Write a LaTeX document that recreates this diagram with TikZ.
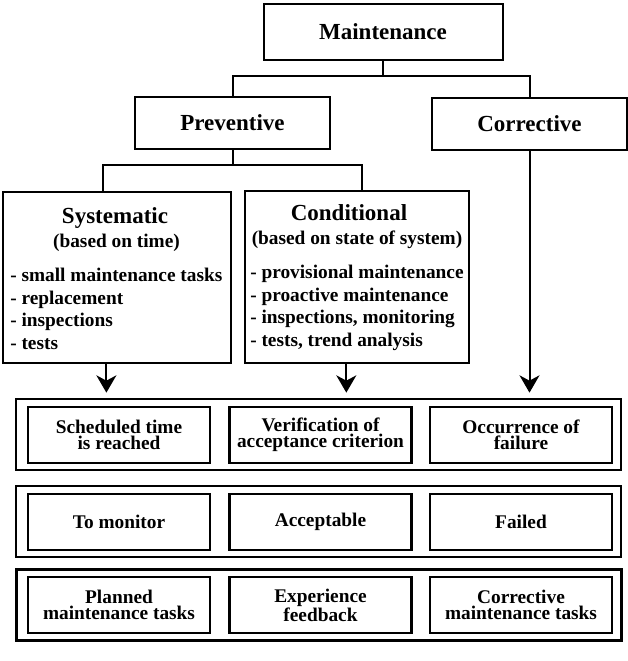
\documentclass[tikz,border=0pt]{standalone}
\usepackage{fontspec}
\setmainfont{Liberation Serif}
\usetikzlibrary{arrows.meta}

\tikzset{
  topbox/.style={draw,line width=1.5pt,inner sep=0pt,font=\fontsize{17.25}{17}\selectfont\bfseries},
  kindbox/.style={draw,line width=1.5pt,inner sep=0pt},
  rowbox/.style={draw,line width=2pt,inner sep=0pt,minimum width=453.75pt,minimum height=53.25pt},
  cellbox/.style={draw,line width=2pt,inner sep=0pt,minimum width=136.5pt,minimum height=42pt,align=center,font=\fontsize{14.5}{12}\selectfont\bfseries},
  title/.style={anchor=base,inner sep=0pt,font=\fontsize{17.25}{17}\selectfont\bfseries},
  listtext/.style={anchor=base west,inner sep=0pt,align=left,font=\fontsize{14.5}{16.9}\selectfont\bfseries},
  link/.style={line width=1.5pt},
  arr/.style={line width=1.5pt,-{Stealth[length=13pt,width=15pt,inset=4pt]},shorten >=3.75pt}
}

\begin{document}
\begin{tikzpicture}[x=0.75pt,y=-0.75pt]
\useasboundingbox (0,0) rectangle (628,661);

% tree
\node[topbox,minimum width=179.25pt,minimum height=42pt] (maint) at (383,32) {Maintenance};
\node[topbox,minimum width=146.25pt,minimum height=39pt] (prev) at (232.5,123) {Preventive};
\node[topbox,minimum width=146.25pt,minimum height=39pt] (corr) at (529.5,124) {Corrective};

\node[kindbox,minimum width=171pt,minimum height=128.25pt] (syst) at (117,277.5) {};
\node[kindbox,minimum width=168pt,minimum height=129pt] (cond) at (357,277) {};

% box texts, lists placed by the baseline of their last line
\node[title] (systname) at (115,223) {Systematic};
\node[title,font=\fontsize{14.5}{16}\selectfont\bfseries] (systsub) at (116.5,247) {(based on time)};
\node[listtext] (systlist) at (10,349.5) {- small maintenance tasks\\- replacement\\- inspections\\- tests};

\node[title] (condname) at (349,220) {Conditional};
\node[title,font=\fontsize{14.5}{16}\selectfont\bfseries] (condsub) at (357,244) {(based on state of system)};
\node[listtext] (condlist) at (250,346.5) {- provisional maintenance\\- proactive maintenance\\- inspections, monitoring\\- tests, trend analysis};

\coordinate (mjoin) at (383,76);
\coordinate (pjoin) at (232.5,165);
\draw[link] (maint) -- (mjoin);
\draw[link] (mjoin) -| (prev);
\draw[link] (mjoin) -| (corr);
\draw[link] (prev) -- (pjoin);
\draw[link] (pjoin) -| (syst.99);
\draw[link] (pjoin) -| (cond.87);

% rows
\node[rowbox] (rowa) at (318.5,434.5) {};
\node[rowbox] (rowb) at (318.5,521.5) {};
\node[rowbox] (rowc) at (319,605) {};

\node[cellbox] (sched) at (119,435) {Scheduled time\\is reached};
\node[cellbox] (verif) at (320.5,435) {Verification of\\acceptance criterion};
\node[cellbox] (occur) at (521,435) {Occurrence of\\failure};

\node[cellbox] (monitor) at (119,522) {To monitor};
\node[cellbox] (accept) at (320.5,522) {Acceptable};
\node[cellbox] (failed) at (521,522) {Failed};

\node[cellbox] (planned) at (119,605) {Planned\\maintenance tasks};
\node[cellbox] (feedback) at (320.5,605) {Experience\\feedback};
\node[cellbox] (cortasks) at (521,605) {Corrective\\maintenance tasks};

\draw[arr] (syst.263) -- (syst.263 |- rowa.north);
\draw[arr] (cond.263) -- (cond.263 |- rowa.north);
\draw[arr] (corr.south) -- (corr.south |- rowa.north);
\end{tikzpicture}
\end{document}
